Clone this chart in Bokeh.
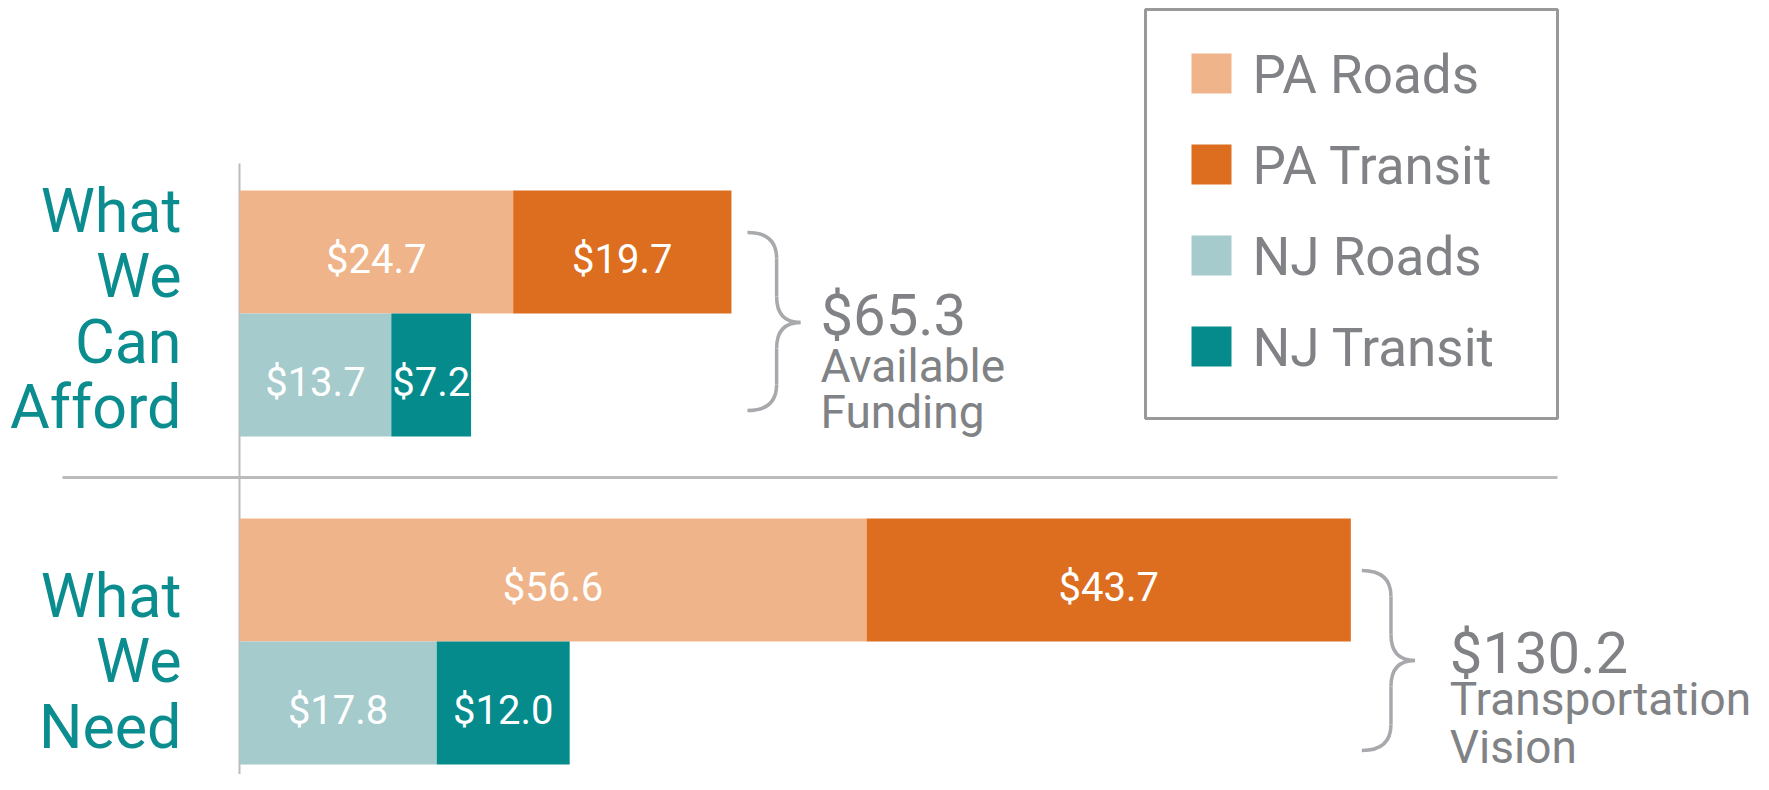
from bokeh.plotting import figure
from bokeh.models import Range1d, ColumnDataSource
from bokeh.core.properties import value
from bokeh.embed import file_html
from bokeh.resources import INLINE

# ---- data ----
groups = ["What We Can Afford", "What We Need"]
group_lines = [["What", "We", "Can", "Afford"], ["What", "We", "Need"]]
series = ["PA Roads", "PA Transit", "NJ Roads", "NJ Transit"]
pa_roads = [24.7, 56.6]
pa_transit = [19.7, 43.7]
nj_roads = [13.7, 17.8]
nj_transit = [7.2, 12.0]
totals = [65.3, 130.2]
total_captions = [["Available", "Funding"], ["Transportation", "Vision"]]

# ---- styles / layout ----
colors = ["#EFB489", "#DD6E1F", "#A5CBCD", "#058B8C"]
TEAL = "#0B8C8E"
GRAY_TXT = "#808285"
BRACE = "#A7A9AC"
RULE = "#BBBBBB"
FONT = value("Roboto")

W, H = 1753, 774
K = 11.08            # px per unit
X0PX = 239           # pixel x of value 0


def X(px):
    return (px - X0PX) / K


def mid(baseline, size):
    # vertical middle of capitals for a given baseline
    return baseline - 0.355 * size


p = figure(width=W, height=H, output_backend="svg", toolbar_location=None,
           x_range=Range1d(X(0), X(W)), y_range=Range1d(H, 0),
           min_border=0)
p.xaxis.visible = False
p.yaxis.visible = False
p.grid.visible = False
p.outline_line_color = None
p.background_fill_color = "white"

group_top = [190, 518]
bar_h = 123
label_baselines = [232, 617]
line_gap = 65.5
LBL = 61

# axis and divider
p.segment(x0=[0], y0=[163], x1=[0], y1=[H], line_color=RULE, line_width=2)
p.segment(x0=[X(62)], y0=[477], x1=[X(1557)], y1=[477], line_color=RULE, line_width=3)

ys, lefts, rights, cols, labs, xcs = [], [], [], [], [], []
for g in range(len(groups)):
    rows = [[(pa_roads[g], 0), (pa_transit[g], 1)], [(nj_roads[g], 2), (nj_transit[g], 3)]]
    for r, row in enumerate(rows):
        yc = group_top[g] + bar_h * (r + 0.5)
        start = 0.0
        for v, si in row:
            ys.append(yc)
            lefts.append(start)
            rights.append(start + v)
            cols.append(colors[si])
            labs.append("${:.1f}".format(v))
            xcs.append(start + v / 2)
            start += v

src = ColumnDataSource(dict(y=ys, left=lefts, right=rights, color=cols, lab=labs, xc=xcs,
                            ty=[y + 7 for y in ys]))
p.hbar(y="y", left="left", right="right", height=bar_h, fill_color="color", line_color=None, source=src)
p.text(x="xc", y="ty", text="lab", source=src, text_color="white", text_font=FONT,
       text_font_size="40px", text_align="center", text_baseline="middle")

# left group labels
for g, lines in enumerate(group_lines):
    p.text(x=[X(181)] * len(lines),
           y=[mid(label_baselines[g] + i * line_gap, LBL) for i in range(len(lines))],
           text=lines, text_color=TEAL, text_font=FONT, text_font_size=f"{LBL}px",
           text_align="right", text_baseline="middle")

# braces and totals
brace_w = 53
brace_gap = [16, 11]
text_gap = [73, 88]
brace_span = [(232, 410, 322), (570, 750, 660)]
caption_baselines = [[335, 382, 428], [673, 715, 763]]
BIG, SMALL = 58, 46
for g in range(len(groups)):
    end_px = X0PX + (pa_roads[g] + pa_transit[g]) * K
    xl = end_px + brace_gap[g]
    xs = xl + 0.55 * brace_w
    xt = xl + brace_w
    yt, yb, ym = brace_span[g]
    r = 26
    p.quadratic(x0=[X(xl), X(xs), X(xt), X(xs)], y0=[yt, ym - r, ym, yb - r],
                x1=[X(xs), X(xt), X(xs), X(xl)], y1=[yt + r, ym, ym + r, yb],
                cx=[X(xs), X(xs), X(xs), X(xs)], cy=[yt, ym, ym, yb],
                line_color=BRACE, line_width=3.5)
    p.segment(x0=[X(xs), X(xs)], y0=[yt + r, ym + r], x1=[X(xs), X(xs)], y1=[ym - r, yb - r],
              line_color=BRACE, line_width=3.5)
    tx = X(xl + text_gap[g])
    b = caption_baselines[g]
    p.text(x=[tx], y=[mid(b[0], BIG)], text=["${:.1f}".format(totals[g])], text_color=GRAY_TXT,
           text_font=FONT, text_font_size=f"{BIG}px", text_baseline="middle")
    p.text(x=[tx, tx], y=[mid(b[1], SMALL), mid(b[2], SMALL)], text=total_captions[g],
           text_color=GRAY_TXT, text_font=FONT, text_font_size=f"{SMALL}px", text_baseline="middle")

# legend
p.quad(left=[X(1145)], right=[X(1557)], top=[9], bottom=[418], fill_color=None,
       line_color="#97999B", line_width=3)
sw_top = [53 + 91 * i for i in range(len(series))]
LEG = 53
p.quad(left=[X(1191)] * 4, right=[X(1231)] * 4, top=sw_top, bottom=[t + 40 for t in sw_top],
       fill_color=colors, line_color=None)
p.text(x=[X(1252)] * 4, y=[mid(t + 40, LEG) for t in sw_top], text=series, text_color=GRAY_TXT,
       text_font=FONT, text_font_size=f"{LEG}px", text_baseline="middle")

open("out.html", "w").write(file_html(p, INLINE))
